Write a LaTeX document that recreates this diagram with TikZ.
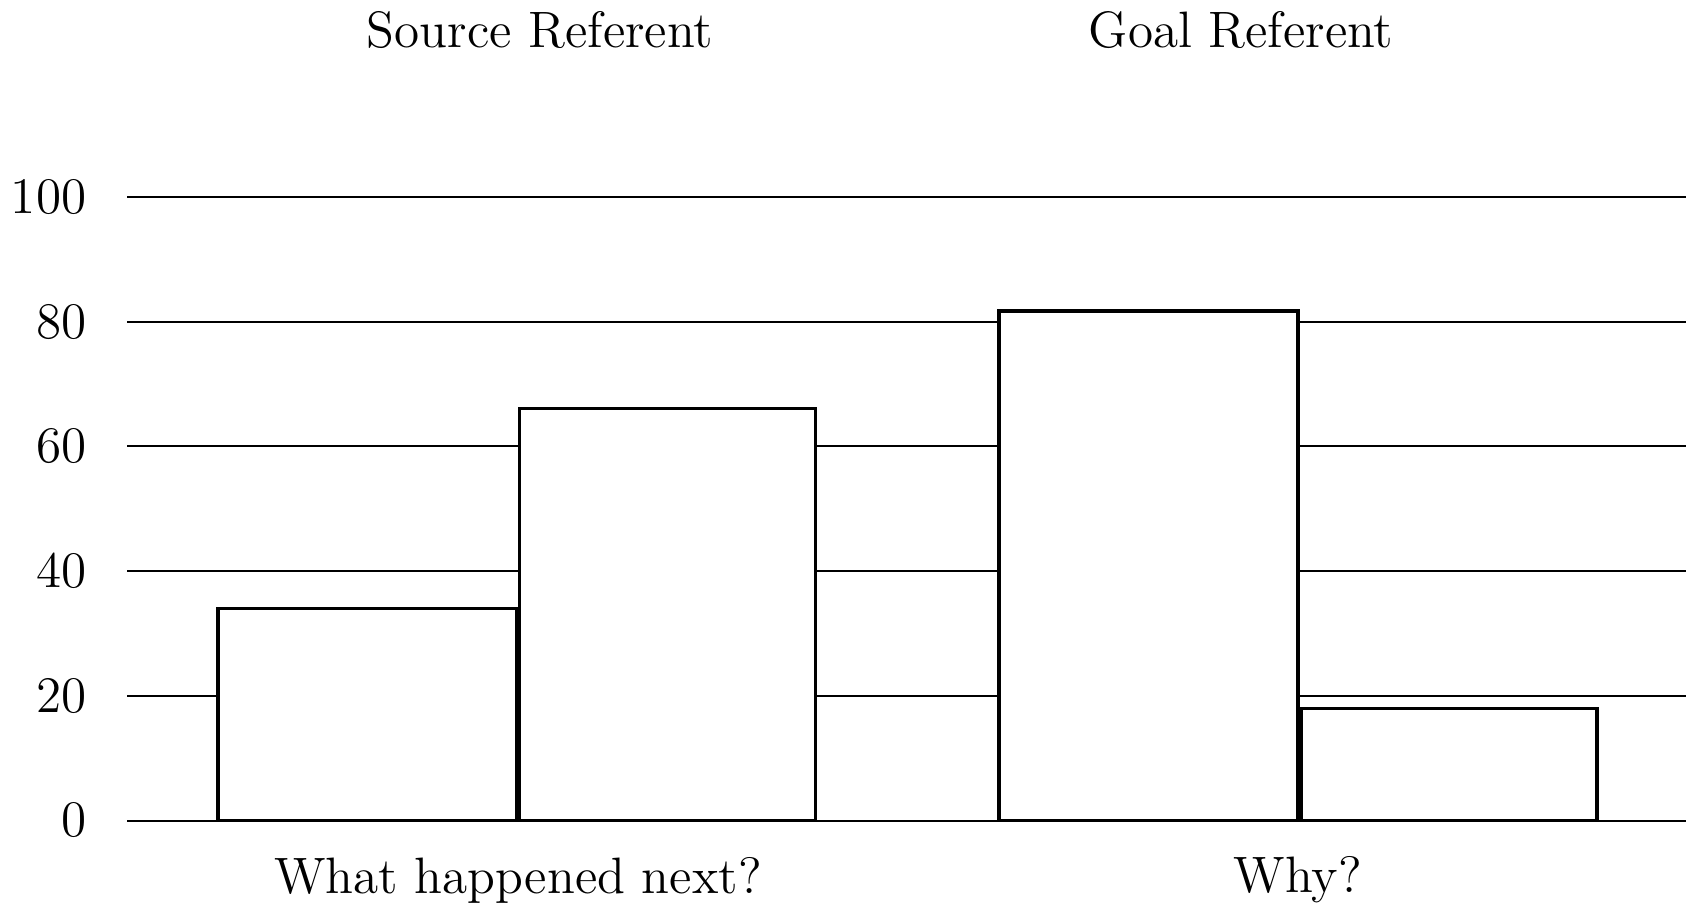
\documentclass[tikz,border=0pt]{standalone}
\begin{document}
\begin{tikzpicture}[x=0.25pt,y=-0.25pt,font=\fontsize{12.8}{15}\selectfont]
      \tikzset{
        gridline/.style={line width=0.5pt},
        bar/.style={draw,fill=white,line width=0.8pt}
      }
      \useasboundingbox (0,0) rectangle (1686,912);
      \foreach \v in {0,20,...,100} {
        \draw[gridline] (127,{820.5-6.237*\v}) -- (1686,{820.5-6.237*\v});
        \node[anchor=east,inner sep=0pt] (y\v) at (87,{820.5-6.237*\v}) {\v};
      }
      \begin{scope}
        \draw[bar] (218,820.5) rectangle ++(299,{-6.237*34});
        \draw[bar] (519.5,820.5) rectangle ++(296,{-6.237*66});
        \draw[bar] (999,820.5) rectangle ++(299,{-6.237*81.7});
        \draw[bar] (1301,820.5) rectangle ++(296,{-6.237*18});
      \end{scope}
      \draw
        (518,880) node (q1){What happened next?}
        (1298,880) node (q2){Why?}
        (540,30) node (s){Source Referent}
        (1241,30) node (g){Goal Referent};
    \end{tikzpicture}
\end{document}
